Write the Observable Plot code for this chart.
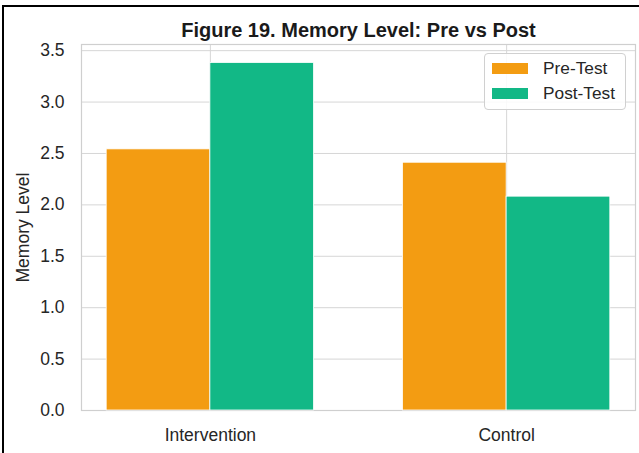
<!DOCTYPE html>
<html>
<head>
<meta charset="utf-8">
<script src="https://cdn.jsdelivr.net/npm/d3@7"></script>
<script src="https://cdn.jsdelivr.net/npm/@observablehq/plot@0.6"></script>
<style>
  html, body { margin: 0; padding: 0; background: #fff; }
  #wrap { position: relative; width: 639px; height: 453px; overflow: hidden; font-family: "Liberation Sans", Arial, sans-serif; }
  #wrap svg { position: absolute; left: 0; top: 0; }
  #border { position: absolute; left: 2px; top: 5px; width: 700px; height: 500px; border-top: 2px solid #000; border-left: 2px solid #000; pointer-events: none; }
  #legend { position: absolute; left: 484px; top: 53px; width: 142px; height: 57px; border: 1px solid #d0d0d0; border-radius: 4px; background: rgba(255,255,255,0.85); box-sizing: border-box; }
  .item { position: absolute; left: 7px; display: flex; align-items: center; font-size: 17.3px; line-height: 20px; color: #262626; }
  .sw { width: 36px; height: 11px; margin-right: 15px; }
</style>
</head>
<body>
<div id="wrap"><div id="border"></div></div>
<script>
const title = "Figure 19. Memory Level: Pre vs Post";
const categories = ["Intervention", "Control"];
const series = ["Pre-Test", "Post-Test"];
const preValues = [2.54, 2.41];
const postValues = [3.38, 2.08];
const yTicks = [0, 0.5, 1.0, 1.5, 2.0, 2.5, 3.0, 3.5];
const colors = ["#f39c12", "#12b886"];

const barWidth = 0.35;
const rows = [];
categories.forEach((c, i) => {
  rows.push({i, series: series[0], value: preValues[i], x1: i - barWidth, x2: i});
  rows.push({i, series: series[1], value: postValues[i], x1: i, x2: i + barWidth});
});

const chart = Plot.plot({
  width: 639,
  height: 453,
  marginLeft: 81,
  marginRight: 4,
  marginTop: 44,
  marginBottom: 43,
  style: {fontFamily: "'Liberation Sans', Arial, sans-serif", fontSize: "17.5px", color: "#262626", background: "transparent"},
  x: {domain: [-0.435, 1.435]},
  y: {domain: [0, 3.56]},
  color: {domain: series, range: colors},
  marks: [
    Plot.gridY(yTicks, {stroke: "#d6d6d6", strokeOpacity: 1, strokeWidth: 1}),
    Plot.gridX([0, 1], {stroke: "#d6d6d6", strokeOpacity: 1, strokeWidth: 1}),
    Plot.frame({stroke: "#cfcfcf", strokeWidth: 1.2}),
    Plot.rectY(rows, {x1: "x1", x2: "x2", y1: 0, y2: "value", fill: "series", stroke: "#fff", strokeWidth: 0.8}),
    Plot.axisY(yTicks, {tickSize: 0, tickPadding: 17, tickFormat: d3.format(".1f"), fontSize: 17.5, fill: "#262626",
      label: "Memory Level", labelAnchor: "center", labelOffset: 65, labelArrow: "none"}),
    Plot.axisX([0, 1], {tickSize: 0, tickPadding: 18, tickFormat: i => categories[i], fontSize: 17.5, fill: "#262626", label: null}),
    Plot.text([title], {frameAnchor: "top", lineAnchor: "bottom", dy: -8, fontSize: 20, fontWeight: "bold", fill: "#1a1a1a"})
  ]
});

const wrap = document.getElementById("wrap");
wrap.insertBefore(chart, wrap.firstChild);

const legend = document.createElement("div");
legend.id = "legend";
series.forEach((s, k) => {
  const item = document.createElement("div");
  item.className = "item";
  item.style.top = (k === 0 ? 4 : 29) + "px";
  const sw = document.createElement("div");
  sw.className = "sw";
  sw.style.background = colors[k];
  const t = document.createElement("span");
  t.textContent = s;
  item.appendChild(sw);
  item.appendChild(t);
  legend.appendChild(item);
});
wrap.appendChild(legend);
</script>
</body>
</html>
